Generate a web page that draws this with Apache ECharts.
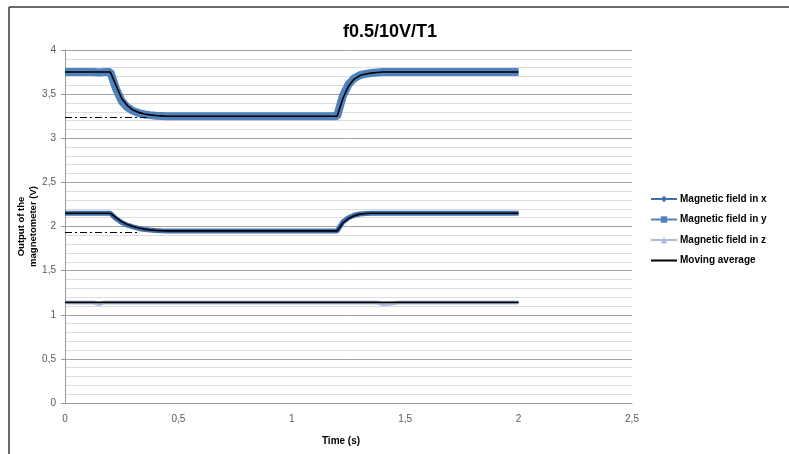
<!DOCTYPE html>
<html>
<head>
<meta charset="utf-8">
<script src="https://cdn.jsdelivr.net/npm/echarts@6/dist/echarts.min.js"></script>
<style>html,body{margin:0;padding:0;background:#fff}#c{width:789px;height:454px}</style>
</head>
<body>
<div id="c"></div>
<script>
// time axis (s), step 0.025
const time = [0,0.025,0.05,0.075,0.1,0.125,0.15,0.175,0.2,0.225,0.25,0.275,0.3,0.325,0.35,0.375,0.4,0.425,0.45,0.475,0.5,0.525,0.55,0.575,0.6,0.625,0.65,0.675,0.7,0.725,0.75,0.775,0.8,0.825,0.85,0.875,0.9,0.925,0.95,0.975,1,1.025,1.05,1.075,1.1,1.125,1.15,1.175,1.2,1.225,1.25,1.275,1.3,1.325,1.35,1.375,1.4,1.425,1.45,1.475,1.5,1.525,1.55,1.575,1.6,1.625,1.65,1.675,1.7,1.725,1.75,1.775,1.8,1.825,1.85,1.875,1.9,1.925,1.95,1.975,2];

const fieldX = [2.15,2.15,2.15,2.15,2.15,2.15,2.15,2.15,2.15,
  2.09,2.045,2.015,1.995,1.978,1.967,1.96,1.955,1.952,
  1.95,1.95,1.95,1.95,1.95,1.95,1.95,1.95,1.95,1.95,1.95,1.95,1.95,1.95,1.95,1.95,1.95,1.95,1.95,1.95,1.95,1.95,1.95,1.95,1.95,1.95,1.95,1.95,1.95,1.95,1.95,
  2.05,2.10,2.128,2.142,2.148,2.15,2.15,
  2.15,2.15,2.15,2.15,2.15,2.15,2.15,2.15,2.15,2.15,2.15,2.15,2.15,2.15,2.15,2.15,2.15,2.15,2.15,2.15,2.15,2.15,2.15,2.15,2.15];

const fieldY = [3.75,3.75,3.75,3.75,3.75,3.75,3.745,3.75,3.75,
  3.56,3.42,3.35,3.31,3.285,3.27,3.262,3.256,3.253,
  3.25,3.25,3.25,3.25,3.25,3.25,3.25,3.25,3.25,3.25,3.25,3.25,3.25,3.25,3.25,3.25,3.25,3.25,3.25,3.25,3.25,3.25,3.25,3.25,3.25,3.25,3.25,3.25,3.25,3.25,3.25,
  3.48,3.61,3.68,3.715,3.73,3.74,3.745,
  3.75,3.75,3.75,3.75,3.75,3.75,3.75,3.75,3.75,3.75,3.75,3.75,3.75,3.75,3.75,3.75,3.75,3.75,3.75,3.75,3.75,3.75,3.75,3.75,3.75];

const fieldZ = [1.14,1.14,1.14,1.14,1.14,1.14,1.12,1.14,1.14,
  1.14,1.14,1.14,1.14,1.14,1.14,1.14,1.14,1.14,
  1.14,1.14,1.14,1.14,1.14,1.14,1.14,1.14,1.14,1.14,1.14,1.14,1.14,1.14,1.14,1.14,1.14,1.14,1.14,1.14,1.14,1.14,1.14,1.14,1.14,1.14,1.14,1.14,1.14,1.14,1.14,
  1.14,1.14,1.14,1.14,1.14,1.14,1.14,
  1.12,1.125,1.13,1.14,1.14,1.14,1.14,1.14,1.14,1.14,1.14,1.14,1.14,1.14,1.14,1.14,1.14,1.14,1.14,1.14,1.14,1.14,1.14,1.14,1.14];

const avgX = [2.15,2.15,2.15,2.15,2.15,2.15,2.15,2.15,2.15,
  2.10,2.055,2.022,2.0,1.982,1.97,1.962,1.956,1.952,
  1.95,1.95,1.95,1.95,1.95,1.95,1.95,1.95,1.95,1.95,1.95,1.95,1.95,1.95,1.95,1.95,1.95,1.95,1.95,1.95,1.95,1.95,1.95,1.95,1.95,1.95,1.95,1.95,1.95,1.95,1.95,
  2.04,2.09,2.122,2.14,2.147,2.15,2.15,
  2.15,2.15,2.15,2.15,2.15,2.15,2.15,2.15,2.15,2.15,2.15,2.15,2.15,2.15,2.15,2.15,2.15,2.15,2.15,2.15,2.15,2.15,2.15,2.15,2.15];

const avgY = [3.75,3.75,3.75,3.75,3.75,3.75,3.75,3.75,3.75,
  3.60,3.45,3.37,3.32,3.293,3.275,3.265,3.258,3.254,
  3.25,3.25,3.25,3.25,3.25,3.25,3.25,3.25,3.25,3.25,3.25,3.25,3.25,3.25,3.25,3.25,3.25,3.25,3.25,3.25,3.25,3.25,3.25,3.25,3.25,3.25,3.25,3.25,3.25,3.25,3.25,
  3.45,3.59,3.67,3.71,3.728,3.738,3.745,
  3.75,3.75,3.75,3.75,3.75,3.75,3.75,3.75,3.75,3.75,3.75,3.75,3.75,3.75,3.75,3.75,3.75,3.75,3.75,3.75,3.75,3.75,3.75,3.75,3.75];

const avgZ = [1.14,1.14,1.14,1.14,1.14,1.14,1.14,1.14,1.14,
  1.14,1.14,1.14,1.14,1.14,1.14,1.14,1.14,1.14,
  1.14,1.14,1.14,1.14,1.14,1.14,1.14,1.14,1.14,1.14,1.14,1.14,1.14,1.14,1.14,1.14,1.14,1.14,1.14,1.14,1.14,1.14,1.14,1.14,1.14,1.14,1.14,1.14,1.14,1.14,1.14,
  1.14,1.14,1.14,1.14,1.14,1.14,1.14,
  1.14,1.14,1.14,1.14,1.14,1.14,1.14,1.14,1.14,1.14,1.14,1.14,1.14,1.14,1.14,1.14,1.14,1.14,1.14,1.14,1.14,1.14,1.14,1.14,1.14];

// steady-state reference levels (dash-dot lines)
const refLevels = [3.24, 1.935];
const refEnds = [0.36, 0.33];

const seriesNames = ['Magnetic field in x','Magnetic field in y','Magnetic field in z','Moving average'];
const titleText = 'f0.5/10V/T1';

const pairs = (arr) => time.map((t, i) => [t, arr[i]]);
const fmt = (v) => String(v).replace('.', ',');
const labelFont = "'Liberation Sans Narrow', 'Liberation Sans', sans-serif";
const boldFont = "'Liberation Sans', Arial, sans-serif";

const chart = echarts.init(document.getElementById('c'), null, {renderer: 'canvas'});
chart.setOption({
  animation: false,
  backgroundColor: '#fff',
  title: {
    text: titleText, left: 338, top: 18,
    textStyle: {fontFamily: boldFont, fontWeight: 'bold', fontSize: 18, color: '#000'}
  },
  graphic: [
    {type: 'line', shape: {x1: 9, y1: 7, x2: 789, y2: 7}, style: {stroke: '#3a3a3a', lineWidth: 1.5}},
    {type: 'line', shape: {x1: 9, y1: 7, x2: 9, y2: 454}, style: {stroke: '#3a3a3a', lineWidth: 1.5}}
  ],
  legend: {
    orient: 'vertical', left: 645, top: 189, itemWidth: 26, itemHeight: 8, itemGap: 10.5,
    data: [seriesNames[0], seriesNames[1], seriesNames[2],
      {name: seriesNames[3], itemStyle: {color: 'rgba(0,0,0,0)', borderWidth: 0}}],
    textStyle: {fontFamily: boldFont, fontWeight: 'bold', fontSize: 10, color: '#000', padding: [0, 0, 0, -2]}
  },
  grid: {left: 65, right: 157, top: 50, bottom: 51, containLabel: false},
  xAxis: {
    type: 'value', min: 0, max: 2.5, interval: 0.5,
    name: 'Time (s)', nameLocation: 'middle', nameGap: 33, nameMoveOverlap: false,
    nameTextStyle: {fontFamily: labelFont, fontWeight: 'bold', fontSize: 10, color: '#000', padding: [0, 15, 0, 0]},
    axisLine: {show: true, lineStyle: {color: '#9a9a9a'}},
    axisTick: {show: false},
    splitLine: {show: false},
    axisLabel: {formatter: fmt, margin: 11, fontFamily: labelFont, fontSize: 10, color: '#595959'}
  },
  yAxis: {
    type: 'value', min: 0, max: 4, interval: 0.5,
    name: 'Output of the\nmagnetometer (V)', nameLocation: 'middle', nameGap: 26, nameRotate: 90, nameMoveOverlap: false,
    nameTextStyle: {fontFamily: boldFont, fontWeight: 'bold', fontSize: 9.5, color: '#000', lineHeight: 12},
    axisLine: {show: true, lineStyle: {color: '#9a9a9a'}},
    axisTick: {show: true, length: 4, lineStyle: {color: '#9a9a9a'}},
    minorTick: {show: false, splitNumber: 5},
    splitLine: {show: true, lineStyle: {color: '#a3a3a3', width: 1}},
    minorSplitLine: {show: true, lineStyle: {color: '#dcdcdc', width: 1}},
    axisLabel: {formatter: fmt, margin: 9, fontFamily: labelFont, fontSize: 10, color: '#595959'}
  },
  series: [
    {name: seriesNames[0], type: 'line', data: pairs(fieldX), symbol: 'diamond', showSymbol: false,
      color: '#3f6fae', lineStyle: {width: 5, color: '#3f6fae'}, itemStyle: {color: '#3f6fae'}},
    {name: seriesNames[1], type: 'line', data: pairs(fieldY), symbol: 'rect', showSymbol: false,
      color: '#4f81bd', lineStyle: {width: 8, color: '#4f81bd'}, itemStyle: {color: '#4f81bd'}},
    {name: seriesNames[2], type: 'line', data: pairs(fieldZ), symbol: 'triangle', showSymbol: false,
      color: '#a7bddb', lineStyle: {width: 4, color: '#a7bddb'}, itemStyle: {color: '#a7bddb'}},
    {name: seriesNames[3], type: 'line', data: pairs(avgX), symbol: 'circle', showSymbol: false, color: '#000',
      lineStyle: {width: 1.6, color: '#000'},
      markLine: {silent: true, symbol: 'none', label: {show: false},
        lineStyle: {color: '#000', width: 1, type: [7, 3, 2, 3]},
        data: refLevels.map((v, i) => [{coord: [0, v]}, {coord: [refEnds[i], v]}])}},
    {name: seriesNames[3], type: 'line', data: pairs(avgY), symbol: 'circle', showSymbol: false, color: '#000',
      lineStyle: {width: 1.6, color: '#000'}},
    {name: seriesNames[3], type: 'line', data: pairs(avgZ), symbol: 'circle', showSymbol: false, color: '#000',
      lineStyle: {width: 1.6, color: '#000'}}
  ]
});
</script>
</body>
</html>
